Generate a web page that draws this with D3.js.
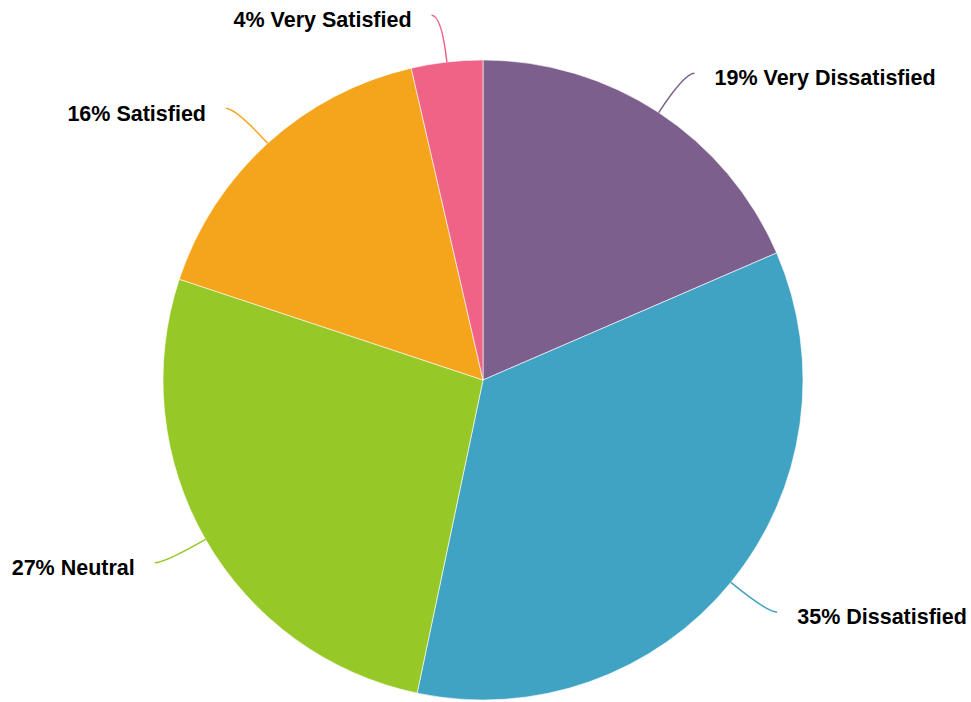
<!DOCTYPE html>
<html><head><meta charset="utf-8">
<script src="https://cdn.jsdelivr.net/npm/d3@7"></script>
<style>html,body{margin:0;padding:0;background:#fff;}svg{display:block;}</style>
</head><body>
<svg id="chart" width="971" height="702"></svg>
<script>
const categories = ["Very Dissatisfied", "Dissatisfied", "Neutral", "Satisfied", "Very Satisfied"];
const values = [18.5, 34.8, 26.8, 16.3, 3.6];
const percentLabels = ["19%", "35%", "27%", "16%", "4%"];
const colors = ["#7d5f8e", "#40a3c3", "#96c828", "#f5a51b", "#ef6386"];

const W = 971, H = 702, cx = 483, cy = 380, R = 320;
const svg = d3.select("#chart");
const g = svg.append("g").attr("transform", `translate(${cx},${cy})`);

const data = categories.map((c, i) => ({cat: c, value: values[i], label: percentLabels[i], color: colors[i]}));
const pie = d3.pie().value(d => d.value).sort(null);
const arcs = pie(data);
const arc = d3.arc().innerRadius(0).outerRadius(R);

g.selectAll("path.slice").data(arcs).join("path")
  .attr("class", "slice")
  .attr("d", arc)
  .attr("fill", d => d.data.color)
  .attr("stroke", "rgba(255,255,255,0.6)")
  .attr("stroke-width", 1);

function pt(a, r) { return [r * Math.sin(a), -r * Math.cos(a)]; }

arcs.forEach(d => {
  const mid = (d.startAngle + d.endAngle) / 2;
  const side = Math.sin(mid) >= 0 ? 1 : -1;
  const s = pt(mid, R);
  const k = pt(mid, R + 47);
  const e = [k[0] + side * 10, k[1]];
  g.append("path")
    .attr("d", `M${s[0]},${s[1]} Q${k[0]},${k[1]} ${e[0]},${e[1]}`)
    .attr("fill", "none")
    .attr("stroke", d.data.color)
    .attr("stroke-width", 1.5);
  g.append("text")
    .attr("x", e[0] + side * 20)
    .attr("y", e[1] + 12)
    .attr("text-anchor", side > 0 ? "start" : "end")
    .attr("font-family", "'Liberation Sans', Arial, Helvetica, sans-serif")
    .attr("font-weight", "bold")
    .attr("font-size", 21.5)
    .attr("fill", "#000")
    .text(`${d.data.label} ${d.data.cat}`);
});
</script>
</body></html>
